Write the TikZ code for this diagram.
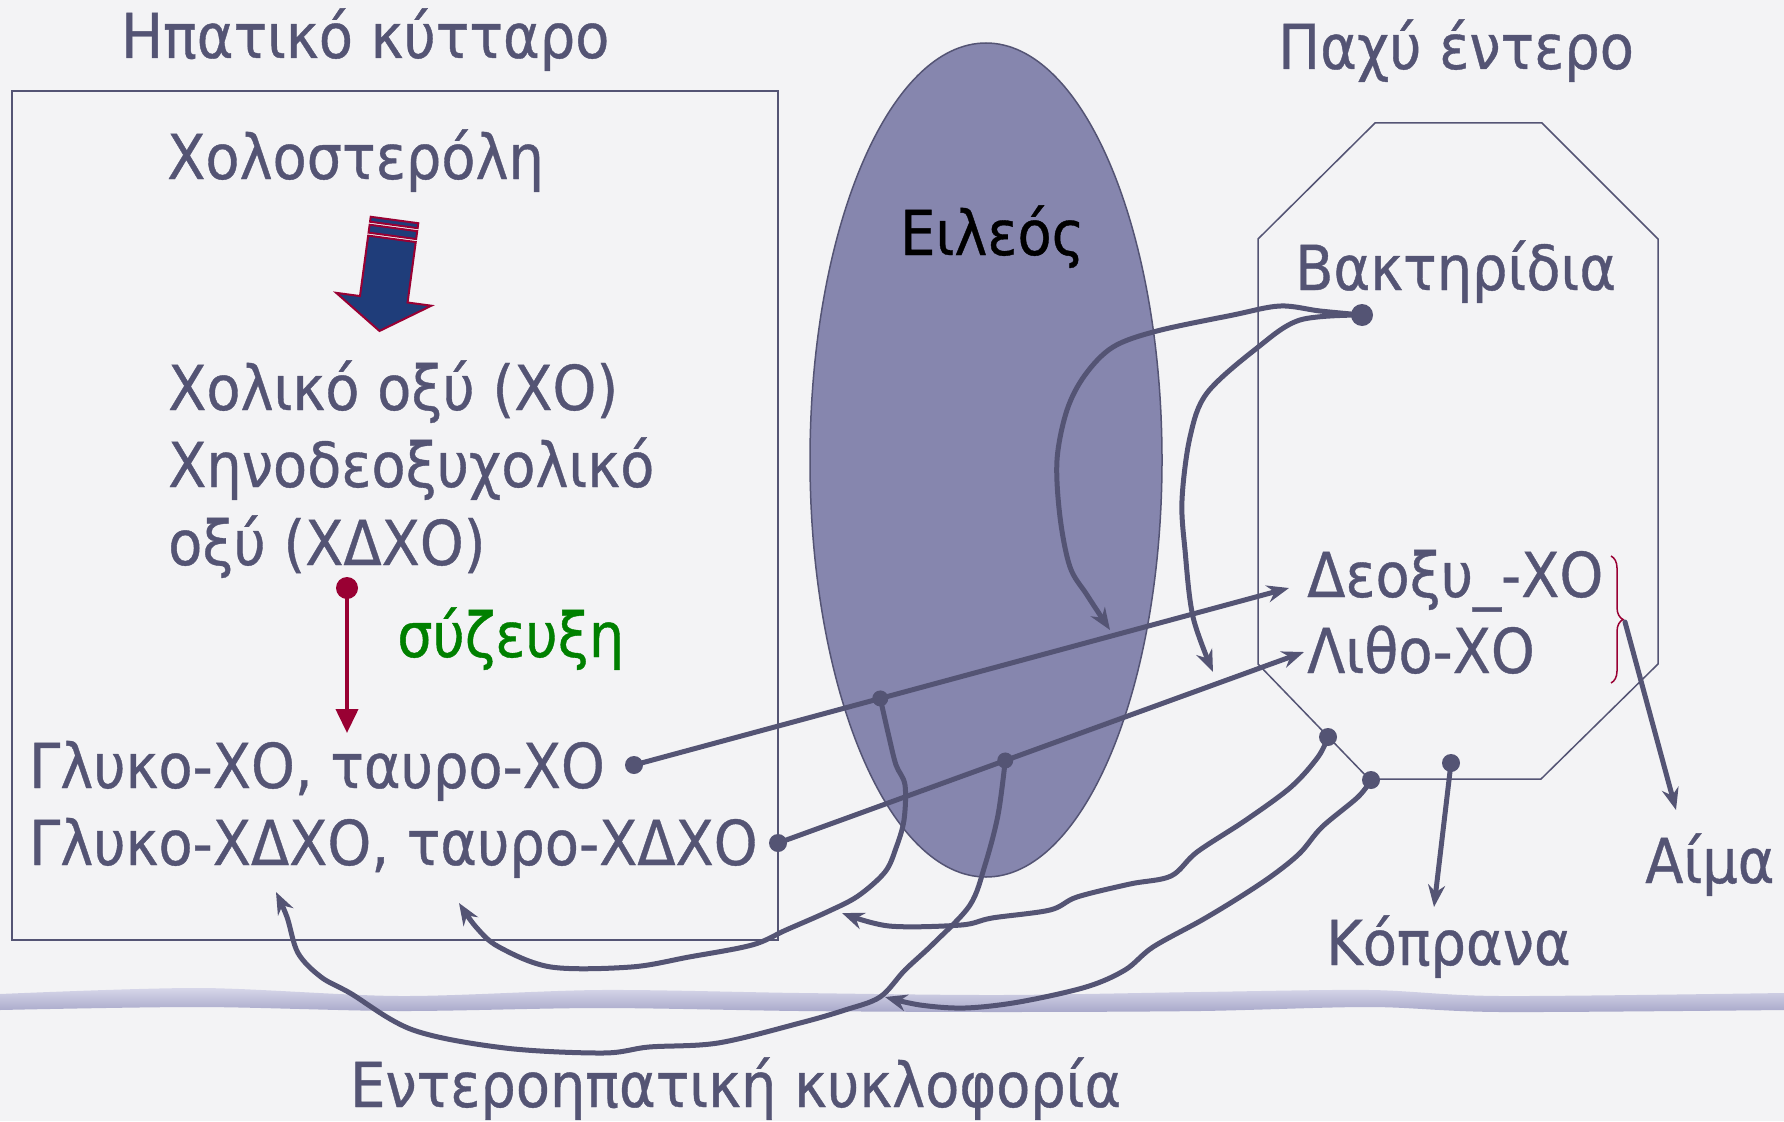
\documentclass[tikz,border=0pt]{standalone}
\usepackage{fontspec}
\setmainfont[FakeStretch=0.9, FakeBold=0.6]{DejaVu Sans}
\usetikzlibrary{arrows.meta, positioning, calc, decorations.pathreplacing}

\definecolor{ink}{RGB}{84,84,116}
\definecolor{paper}{RGB}{243,243,245}
\definecolor{ileal}{RGB}{134,134,174}
\definecolor{crimson}{RGB}{153,0,51}
\definecolor{navy}{RGB}{31,61,122}
\definecolor{leaf}{RGB}{0,128,0}
\definecolor{haze}{RGB}{176,176,212}

\begin{document}
\begin{tikzpicture}[x=1pt, y=-1pt, >={Stealth[length=22pt, width=17pt]},
	txt/.style={inner sep=0pt, anchor=base west, text=ink, font=\fontsize{62}{74}\selectfont},
	flow/.style={draw=ink, line width=5pt, line cap=round, line join=round},
	wall/.style={draw=ink, line width=1.5pt},
	bolt/.style={draw=crimson, fill=navy, line width=2pt}]
	
	% ====== canvas ======
	\fill[paper] (0,0) rectangle (1784,1121);
	\useasboundingbox (0,0) rectangle (1784,1121);
	
	% ====== horizon band ======
	\shade[top color=haze!50, bottom color=haze!95!black]
	plot[smooth] coordinates {(0,994) (200,988) (400,996) (600,990) (800,993) (1000,995) (1200,992) (1370,990) (1500,996) (1784,993)}
	-- plot[smooth] coordinates {(1784,1010) (1500,1012) (1370,1007) (1200,1011) (1000,1012) (800,1011) (600,1008) (400,1011) (200,1007) (0,1010)} -- cycle;
	
	% ====== compartments ======
	\draw[wall] (12,91) rectangle (778,940);
	\draw[wall] (1375,123) -- (1542,123) -- (1658,239) -- (1658,664) -- (1541,779)
	-- (1369,779) -- (1258,664) -- (1258,239) -- cycle;
	\draw[wall, fill=ileal] (986,460) ellipse [x radius=176pt, y radius=417pt];
	
	% ====== labels ======
	\node[txt] (liver) at (121,58) {Ηπατικό κύτταρο};
	\node[txt] (colon) at (1278,69) {Παχύ έντερο};
	\node[txt] (chol) at (167,179) {Χολοστερόλη};
	\node[txt] (ca) at (168,410) {Χολικό οξύ (ΧΟ)};
	\node[txt] (cdca) at (168,487) {Χηνοδεοξυχολικό};
	\node[txt] (cdcb) at (168,565) {οξύ (ΧΔΧΟ)};
	\node[txt, text=leaf] (conj) at (397,657) {σύζευξη};
	\node[txt] (glyXO) at (29,788) {Γλυκο-ΧΟ, ταυρο-ΧΟ};
	\node[txt] (glyXDXO) at (29,865) {Γλυκο-ΧΔΧΟ, ταυρο-ΧΔΧΟ};
	\node[txt, text=black] (ileo) at (900,255) {Ειλεός};
	\node[txt] (bact) at (1295,290) {Βακτηρίδια};
	\node[txt] (deoxy) at (1307,597) {Δεοξυ\_-ΧΟ};
	\node[txt] (litho) at (1307,673) {Λιθο-ΧΟ};
	\node[txt] (blood) at (1645,883) {Αίμα};
	\node[txt] (feces) at (1326,965) {Κόπρανα};
	\node[txt] (ehc) at (350,1107) {Εντεροηπατική κυκλοφορία};
	
	% ====== conversion arrow ======
	\begin{scope}[shift={(394.5,220)}, rotate=-7.7]
		\path[bolt] (-24,0) rectangle (24,5);
		\path[bolt] (-24,8) rectangle (24,16);
		\path[bolt] (-24,19) -- (24,19) -- (24,80) -- (48,80) -- (0,112)
		-- (-48,80) -- (-24,80) -- cycle;
	\end{scope}
	
	% ====== conjugation ======
	\coordinate (conjS) at (347,588);
	\coordinate (conjE) at (347,733);
	\draw[crimson, line width=4pt, -{Triangle[length=24pt, width=22pt]}] (conjS) -- (conjE);
	\fill[crimson] (conjS) circle (11pt);
	
	% ====== secretion into the gut ======
	\coordinate (outXO) at (634,765);
	\coordinate (outXDXO) at (778,843);
	\coordinate (toDeoxy) at (1289,588);
	\coordinate (toLitho) at (1304,652);
	\draw[flow, ->] (outXO) -- (toDeoxy);
	\draw[flow, ->] (outXDXO) -- (toLitho);
	
	% branch points on the two lines
	\coordinate (brA) at ($(outXO)!0.376!(toDeoxy)$);
	\coordinate (brB) at ($(outXDXO)!0.432!(toLitho)$);
	
	% ====== bacterial conversion ======
	\coordinate (bug) at (1362,315);
	\coordinate (tipE) at (1110,630);
	\coordinate (tipF) at (1213,672);
	\draw[flow, ->] plot[smooth, tension=0.55] coordinates {(bug) (1320,311) (1280,306) (1233,315) (1157,331)
		(1113,347) (1085,375) (1067,410) (1057,460) (1060,517) (1070,567) (1087,595) (tipE)};
	\draw[flow, ->] plot[smooth, tension=0.55] coordinates {(bug) (1300,320) (1257,348) (1207,393) (1190,437)
		(1182,500) (1185,550) (1193,617) (tipF)};
	
	% ====== return to the liver ======
	\coordinate (tipA) at (459,903);
	\coordinate (tipB) at (276,892);
	\draw[flow, ->] plot[smooth, tension=0.55] coordinates {(brA) (889,737) (896,765) (905,785) (904,820)
		(896,848) (885,872) (858,896) (827,912) (786,930) (752,945) (689,957) (631,967) (551,967)
		(499,947) (476,927) (tipA)};
	\draw[flow, ->] plot[smooth, tension=0.55] coordinates {(brB) (998,815) (985,865) (970,905) (934,943)
		(905,970) (880,997) (845,1010) (800,1023) (718,1043) (649,1047) (603,1053) (505,1048)
		(413,1030) (350,993) (321,977) (298,953) (287,917) (tipB)};
	
	% ====== absorption from the colon ======
	\coordinate (octC) at (1328,737);
	\coordinate (octD) at (1371,780);
	\coordinate (tipC) at (842,913);
	\coordinate (tipD) at (885,997);
	\draw[flow, ->] plot[smooth, tension=0.55] coordinates {(octC) (1318,757) (1291,787) (1246,820) (1197,852)
		(1171,876) (1130,884) (1077,897) (1050,910) (992,918) (961,925) (889,926) (tipC)};
	\draw[flow, ->] plot[smooth, tension=0.55] coordinates {(octD) (1358,797) (1322,827) (1300,853) (1273,875)
		(1240,897) (1202,920) (1153,947) (1125,970) (1086,987) (1019,1002) (965,1008) (920,1005) (tipD)};
	
	% ====== excretion ======
	\coordinate (fecS) at (1451,763);
	\coordinate (fecE) at (1434,907);
	\draw[flow, ->] (fecS) -- (fecE);
	
	\draw[crimson, line width=1.5pt, decorate, decoration={brace, amplitude=12pt}] (1611,556) -- (1611,683);
	\coordinate (bloodS) at (1625,622);
	\coordinate (bloodE) at (1676,810);
	\draw[flow, ->] (bloodS) -- (bloodE);
	
	% ====== dots ======
	\fill[ink] (outXO) circle (9pt) (outXDXO) circle (9pt) (brA) circle (8pt) (brB) circle (8pt);
	\fill[ink] (bug) circle (11pt) (octC) circle (9pt) (octD) circle (9pt) (fecS) circle (9pt);
\end{tikzpicture}
\end{document}
